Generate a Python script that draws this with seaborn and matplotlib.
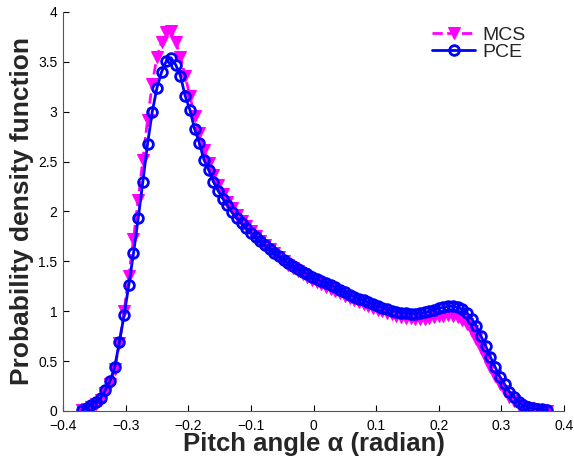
import numpy as np
import pandas as pd
import matplotlib
matplotlib.use("Agg")
import matplotlib.pyplot as plt
import seaborn as sns

# ---- data ----
alpha = [-0.370, -0.3625, -0.355, -0.3475, -0.340, -0.3325, -0.325, -0.3175, -0.310, -0.3025,
         -0.295, -0.2875, -0.280, -0.2725, -0.265, -0.2575, -0.250, -0.2425, -0.235, -0.2275,
         -0.220, -0.2125, -0.205, -0.1975, -0.190, -0.1825, -0.175, -0.1675, -0.160, -0.1525,
         -0.145, -0.1375, -0.130, -0.1225, -0.115, -0.1075, -0.100, -0.0925, -0.085, -0.0775,
         -0.070, -0.0625, -0.055, -0.0475, -0.040, -0.0325, -0.025, -0.0175, -0.010, -0.0025,
         0.005, 0.0125, 0.020, 0.0275, 0.035, 0.0425, 0.050, 0.0575, 0.065, 0.0725,
         0.080, 0.0875, 0.095, 0.1025, 0.110, 0.1175, 0.125, 0.1325, 0.140, 0.1475,
         0.155, 0.1625, 0.170, 0.1775, 0.185, 0.1925, 0.200, 0.2075, 0.215, 0.2225,
         0.230, 0.2375, 0.245, 0.2525, 0.260, 0.2675, 0.275, 0.2825, 0.290, 0.2975,
         0.305, 0.3125, 0.320, 0.3275, 0.335, 0.3425, 0.350, 0.3575, 0.365, 0.3725]

pce = [0.01, 0.03, 0.06, 0.095, 0.13, 0.21, 0.30, 0.44, 0.69, 0.96,
       1.26, 1.58, 1.93, 2.30, 2.68, 3.00, 3.24, 3.40, 3.51, 3.54,
       3.47, 3.36, 3.16, 3.02, 2.83, 2.69, 2.52, 2.42, 2.30, 2.21,
       2.13, 2.06, 1.99, 1.93, 1.88, 1.83, 1.785, 1.74, 1.70, 1.66,
       1.62, 1.585, 1.55, 1.51, 1.48, 1.45, 1.42, 1.395, 1.37, 1.34,
       1.32, 1.30, 1.28, 1.26, 1.24, 1.21, 1.19, 1.165, 1.145, 1.125,
       1.11, 1.09, 1.07, 1.05, 1.035, 1.02, 1.005, 0.995, 0.985, 0.98,
       0.975, 0.975, 0.98, 0.99, 1.00, 1.015, 1.03, 1.04, 1.05, 1.05,
       1.04, 1.02, 0.985, 0.925, 0.85, 0.75, 0.65, 0.54, 0.44, 0.345,
       0.27, 0.195, 0.14, 0.09, 0.06, 0.04, 0.028, 0.02, 0.015, 0.01]

mcs = [0.005, 0.02, 0.04, 0.07, 0.11, 0.18, 0.27, 0.42, 0.68, 1.00,
       1.35, 1.72, 2.12, 2.52, 2.92, 3.28, 3.55, 3.70, 3.80, 3.81,
       3.70, 3.55, 3.36, 3.16, 2.96, 2.79, 2.62, 2.49, 2.37, 2.27,
       2.18, 2.10, 2.03, 1.96, 1.90, 1.85, 1.80, 1.75, 1.70, 1.66,
       1.62, 1.58, 1.54, 1.50, 1.465, 1.43, 1.40, 1.37, 1.345, 1.315,
       1.29, 1.27, 1.245, 1.225, 1.20, 1.18, 1.155, 1.13, 1.11, 1.09,
       1.07, 1.05, 1.035, 1.015, 1.00, 0.985, 0.97, 0.955, 0.945, 0.935,
       0.93, 0.925, 0.925, 0.925, 0.93, 0.94, 0.95, 0.955, 0.96, 0.955,
       0.94, 0.915, 0.87, 0.80, 0.72, 0.63, 0.535, 0.44, 0.35, 0.27,
       0.20, 0.145, 0.10, 0.065, 0.04, 0.025, 0.015, 0.01, 0.005, 0.003]

xticks = [-0.4, -0.3, -0.2, -0.1, 0.0, 0.1, 0.2, 0.3, 0.4]
xticklabels = ["\u22120.4", "\u22120.3", "\u22120.2", "\u22120.1", "0", "0.1", "0.2", "0.3", "0.4"]
yticks = [0, 0.5, 1, 1.5, 2, 2.5, 3, 3.5, 4]
yticklabels = ["0", "0.5", "1", "1.5", "2", "2.5", "3", "3.5", "4"]

df = pd.DataFrame({"alpha": alpha, "MCS": mcs, "PCE": pce})

sns.set_style("white")
plt.rcParams["font.family"] = ["Liberation Sans", "DejaVu Sans"]

fig = plt.figure(figsize=(5.74, 4.59), dpi=100)
ax = fig.add_axes([0.1098, 0.1046, 0.8728, 0.8693])

sns.lineplot(data=df, x="alpha", y="MCS", ax=ax, color="#FF00FF", linestyle="--",
             linewidth=2, marker="v", markersize=9, markeredgecolor="#FF00FF",
             markerfacecolor="#FF00FF", label="MCS", sort=False, estimator=None)
sns.lineplot(data=df, x="alpha", y="PCE", ax=ax, color="#0000FF", linestyle="-",
             linewidth=2, marker="o", markersize=7, markeredgecolor="#0000FF",
             markerfacecolor="none", markeredgewidth=2, label="PCE", sort=False,
             estimator=None)

ax.set_xlim(-0.4, 0.4)
ax.set_ylim(0, 4)
ax.set_xticks(xticks)
ax.set_xticklabels(xticklabels)
ax.set_yticks(yticks)
ax.set_yticklabels(yticklabels)
ax.tick_params(direction="in", length=4, width=0.8, labelsize=10, colors="black",
               left=True, bottom=True, top=False, right=False)
ax.tick_params(axis="x", pad=6)
ax.tick_params(axis="y", pad=4)

for side in ["top", "right"]:
    ax.spines[side].set_visible(False)
for side in ["left", "bottom"]:
    ax.spines[side].set_color("#555555")
    ax.spines[side].set_linewidth(0.8)

ax.set_xlabel("Pitch angle \u03b1 (radian)", fontsize=18.5, fontweight="bold", labelpad=-1)
ax.set_ylabel("Probability density function", fontsize=19, fontweight="bold", labelpad=3)

leg = ax.legend(loc="upper left", frameon=False, fontsize=14, handlelength=2.2,
                bbox_to_anchor=(0.737, 0.965), borderaxespad=0, borderpad=0,
                labelspacing=0.0, handletextpad=0.4)

fig.savefig("out.png", dpi=100)
